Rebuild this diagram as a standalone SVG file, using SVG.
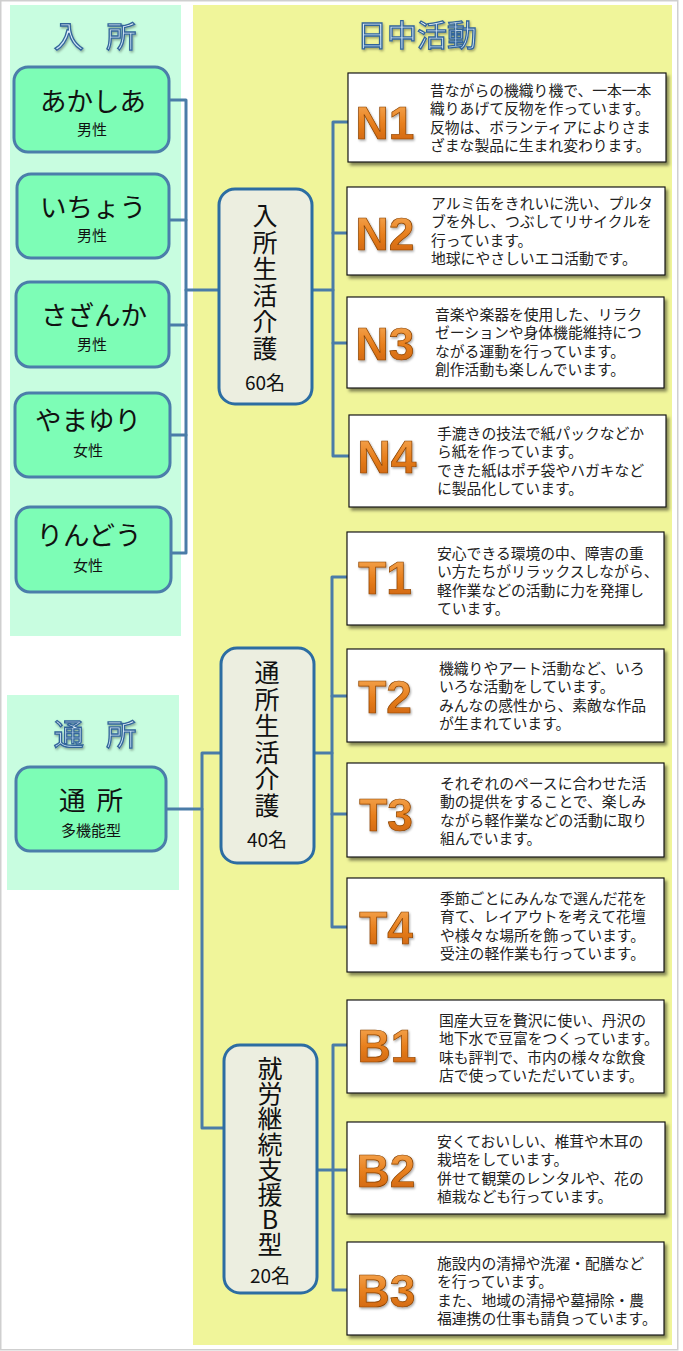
<svg xmlns="http://www.w3.org/2000/svg" width="683" height="1351" viewBox="0 0 683 1351">
<defs>
<style>
.conn{fill:none;stroke:#4A7CA8;stroke-width:3;stroke-linejoin:round;stroke-linecap:round}
.gnode{fill:#7DFDB6;stroke:#4B7EAA;stroke-width:3}
.cnode{fill:#ECEEE0;stroke:#2C6DA2;stroke-width:3}
.box{fill:#ffffff;stroke:#1a1a1a;stroke-width:1.2;filter:url(#sh)}
.lbl{font-family:"Liberation Sans",Arial,sans-serif;font-weight:bold;font-size:46px;fill:url(#og);stroke:#8A4200;stroke-width:0.7;text-anchor:middle;filter:url(#lsh)}
.desc{font-family:"Noto Sans CJK JP",sans-serif;font-size:14.8px;fill:#222222}
.hdr{font-family:"Noto Sans CJK JP",sans-serif;font-size:30px;fill:url(#hg);stroke:#33659A;stroke-width:1.3;text-anchor:middle;filter:url(#lsh)}
.gmain{font-family:"Noto Sans CJK JP",sans-serif;font-size:26.5px;fill:#111111;text-anchor:middle}
.gsub{font-family:"Noto Sans CJK JP",sans-serif;font-size:15px;fill:#111111;text-anchor:middle}
.vt{font-family:"Noto Sans CJK JP",sans-serif;font-size:25px;fill:#111111;writing-mode:vertical-rl;text-orientation:upright}
.cnt{font-family:"Noto Sans CJK JP",sans-serif;font-size:19px;fill:#111111;text-anchor:middle}
</style>
<linearGradient id="og" x1="0" y1="0" x2="0" y2="1">
<stop offset="0" stop-color="#F8B060"/>
<stop offset="0.5" stop-color="#E8801E"/>
<stop offset="1" stop-color="#C85E08"/>
</linearGradient>
<linearGradient id="hg" x1="0" y1="0" x2="0" y2="1">
<stop offset="0" stop-color="#FFFFFF"/>
<stop offset="1" stop-color="#B9DCF4"/>
</linearGradient>
<filter id="sh" x="-5%" y="-5%" width="115%" height="125%">
<feDropShadow dx="2.5" dy="3" stdDeviation="1.8" flood-color="#000" flood-opacity="0.45"/>
</filter>
<filter id="lsh" x="-10%" y="-10%" width="130%" height="130%">
<feDropShadow dx="1" dy="1.5" stdDeviation="0.8" flood-color="#000" flood-opacity="0.35"/>
</filter>
</defs>

<rect x="0.75" y="0.75" width="677" height="1349" fill="#ffffff" stroke="#cfcfcf" stroke-width="1.5"/>

<g id="panels">
<rect x="10" y="5" width="171" height="631" fill="#C8FDE0"/>
<rect x="7" y="695" width="172" height="195" fill="#C8FDE0"/>
<rect x="193" y="5" width="479" height="1340" fill="#F0F59A"/>
<text class="hdr" x="95" y="47" word-spacing="16">入 所</text>
<text class="hdr" x="95" y="745" word-spacing="16">通 所</text>
<text class="hdr" x="417" y="46" font-size="31">日中活動</text>
</g>

<g id="connectors">
<path class="conn" d="M169 100 H186 V553 H171"/>
<path class="conn" d="M169 220 H186"/>
<path class="conn" d="M169 325 H186"/>
<path class="conn" d="M170 435 H186"/>
<path class="conn" d="M186 290 H219"/>
<path class="conn" d="M312 290 H333"/>
<path class="conn" d="M348 122 H333 V456 H349"/>
<path class="conn" d="M333 233 H347"/>
<path class="conn" d="M333 343 H347"/>
<path class="conn" d="M166 809 H202"/>
<path class="conn" d="M221 753 H202 V1128 H224"/>
<path class="conn" d="M314 753 H332"/>
<path class="conn" d="M347 577 H332 V927 H347"/>
<path class="conn" d="M332 696 H347"/>
<path class="conn" d="M332 814 H347"/>
<path class="conn" d="M317 1170 H333"/>
<path class="conn" d="M347 1045 H333 V1290 H347"/>
<path class="conn" d="M333 1170 H347"/>
</g>

<g id="akashia">
<rect class="gnode" x="14" y="67" width="155" height="85" rx="14"/>
<text class="gmain" x="93" y="111">あかしあ</text>
<text class="gsub" x="92" y="135">男性</text>
</g>
<g id="ichou">
<rect class="gnode" x="17" y="174" width="152" height="84" rx="14"/>
<text class="gmain" x="93" y="217">いちょう</text>
<text class="gsub" x="92" y="241">男性</text>
</g>
<g id="sazanka">
<rect class="gnode" x="16" y="282" width="153" height="85" rx="14"/>
<text class="gmain" x="94" y="325">さざんか</text>
<text class="gsub" x="92" y="350">男性</text>
</g>
<g id="yamayuri">
<rect class="gnode" x="15" y="393" width="155" height="84" rx="14"/>
<text class="gmain" x="88" y="430">やまゆり</text>
<text class="gsub" x="88" y="456">女性</text>
</g>
<g id="rindou">
<rect class="gnode" x="16" y="507" width="155" height="85" rx="14"/>
<text class="gmain" x="89" y="545">りんどう</text>
<text class="gsub" x="88" y="571">女性</text>
</g>
<g id="tsusho">
<rect class="gnode" x="16" y="767" width="150" height="84" rx="14"/>
<text class="gmain" x="91" y="810" word-spacing="5">通 所</text>
<text class="gsub" x="91" y="836">多機能型</text>
</g>

<g id="nyusho-seikatsu">
<rect class="cnode" x="219" y="189" width="93" height="215" rx="16"/>
<text class="vt" x="265" y="203" letter-spacing="1.5">入所生活介護</text>
<text class="cnt" x="265" y="390">60名</text>
</g>
<g id="tsusho-seikatsu">
<rect class="cnode" x="221" y="648" width="93" height="215" rx="16"/>
<text class="vt" x="267" y="660" letter-spacing="1.5">通所生活介護</text>
<text class="cnt" x="267" y="847">40名</text>
</g>
<g id="shuro-b">
<rect class="cnode" x="224" y="1045" width="93" height="248" rx="16"/>
<text class="vt" x="270" y="1056" font-size="23" letter-spacing="0.2">就労継続支援B型</text>
<text class="cnt" x="270" y="1283">20名</text>
</g>

<g id="N1">
<rect class="box" x="348" y="73" width="318" height="89"/>
<text class="lbl" x="385" y="139">N1</text>
<text class="desc"><tspan x="430" y="96">昔ながらの機織り機で、一本一本</tspan><tspan x="430" dy="18.4">織りあげて反物を作っています。</tspan><tspan x="430" dy="18.4">反物は、ボランティアによりさま</tspan><tspan x="430" dy="18.4">ざまな製品に生まれ変わります。</tspan></text>
</g>
<g id="N2">
<rect class="box" x="347" y="187" width="318" height="88"/>
<text class="lbl" x="385" y="250">N2</text>
<text class="desc"><tspan x="431" y="209">アルミ缶をきれいに洗い、プルタ</tspan><tspan x="431" dy="18.4">ブを外し、つぶしてリサイクルを</tspan><tspan x="431" dy="18.4">行っています。</tspan><tspan x="431" dy="18.4">地球にやさしいエコ活動です。</tspan></text>
</g>
<g id="N3">
<rect class="box" x="347" y="297" width="317" height="91"/>
<text class="lbl" x="385" y="360">N3</text>
<text class="desc"><tspan x="435" y="320">音楽や楽器を使用した、リラク</tspan><tspan x="435" dy="18.4">ゼーションや身体機能維持につ</tspan><tspan x="435" dy="18.4">ながる運動を行っています。</tspan><tspan x="435" dy="18.4">創作活動も楽しんでいます。</tspan></text>
</g>
<g id="N4">
<rect class="box" x="349" y="415" width="317" height="92"/>
<text class="lbl" x="387" y="473">N4</text>
<text class="desc"><tspan x="437" y="439">手漉きの技法で紙パックなどか</tspan><tspan x="437" dy="18.4">ら紙を作っています。</tspan><tspan x="437" dy="18.4">できた紙はポチ袋やハガキなど</tspan><tspan x="437" dy="18.4">に製品化しています。</tspan></text>
</g>
<g id="T1">
<rect class="box" x="347" y="532" width="317" height="93"/>
<text class="lbl" x="385" y="594">T1</text>
<text class="desc"><tspan x="437" y="559">安心できる環境の中、障害の重</tspan><tspan x="437" dy="18.4">い方たちがリラックスしながら、</tspan><tspan x="437" dy="18.4">軽作業などの活動に力を発揮し</tspan><tspan x="437" dy="18.4">ています。</tspan></text>
</g>
<g id="T2">
<rect class="box" x="347" y="649" width="317" height="93"/>
<text class="lbl" x="385" y="713">T2</text>
<text class="desc"><tspan x="439" y="674">機織りやアート活動など、いろ</tspan><tspan x="439" dy="18.4">いろな活動をしています。</tspan><tspan x="439" dy="18.4">みんなの感性から、素敵な作品</tspan><tspan x="439" dy="18.4">が生まれています。</tspan></text>
</g>
<g id="T3">
<rect class="box" x="347" y="763" width="317" height="94"/>
<text class="lbl" x="386" y="831">T3</text>
<text class="desc"><tspan x="440" y="789">それぞれのペースに合わせた活</tspan><tspan x="440" dy="18.4">動の提供をすることで、楽しみ</tspan><tspan x="440" dy="18.4">ながら軽作業などの活動に取り</tspan><tspan x="440" dy="18.4">組んでいます。</tspan></text>
</g>
<g id="T4">
<rect class="box" x="347" y="878" width="317" height="94"/>
<text class="lbl" x="386" y="944">T4</text>
<text class="desc"><tspan x="440" y="904">季節ごとにみんなで選んだ花を</tspan><tspan x="440" dy="18.4">育て、レイアウトを考えて花壇</tspan><tspan x="440" dy="18.4">や様々な場所を飾っています。</tspan><tspan x="440" dy="18.4">受注の軽作業も行っています。</tspan></text>
</g>
<g id="B1">
<rect class="box" x="347" y="1000" width="317" height="93"/>
<text class="lbl" x="387" y="1062">B1</text>
<text class="desc"><tspan x="439" y="1026">国産大豆を贅沢に使い、丹沢の</tspan><tspan x="439" dy="18.4">地下水で豆富をつくっています。</tspan><tspan x="439" dy="18.4">味も評判で、市内の様々な飲食</tspan><tspan x="439" dy="18.4">店で使っていただいています。</tspan></text>
</g>
<g id="B2">
<rect class="box" x="347" y="1122" width="318" height="92"/>
<text class="lbl" x="386" y="1187">B2</text>
<text class="desc"><tspan x="437" y="1147">安くておいしい、椎茸や木耳の</tspan><tspan x="437" dy="18.4">栽培をしています。</tspan><tspan x="437" dy="18.4">併せて観葉のレンタルや、花の</tspan><tspan x="437" dy="18.4">植栽なども行っています。</tspan></text>
</g>
<g id="B3">
<rect class="box" x="347" y="1242" width="317" height="93"/>
<text class="lbl" x="386" y="1307">B3</text>
<text class="desc"><tspan x="437" y="1269">施設内の清掃や洗濯・配膳など</tspan><tspan x="437" dy="18.4">を行っています。</tspan><tspan x="437" dy="18.4">また、地域の清掃や墓掃除・農</tspan><tspan x="437" dy="18.4">福連携の仕事も請負っています。</tspan></text>
</g>
</svg>
